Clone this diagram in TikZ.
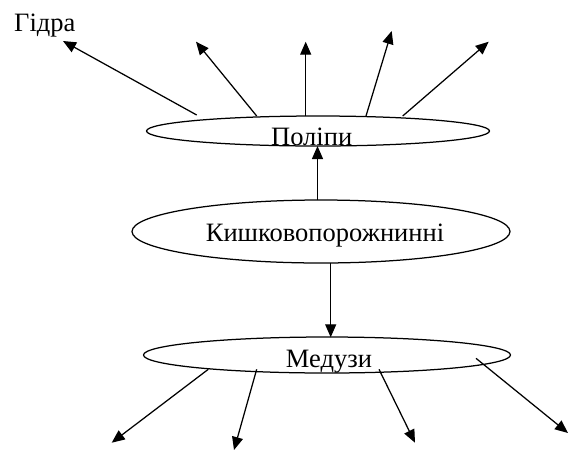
\documentclass[tikz,border=0pt]{standalone}
\usepackage{fontspec}
\setmainfont{Liberation Serif}
\usetikzlibrary{shapes.geometric,arrows.meta}
\begin{document}
\begin{tikzpicture}[x=1pt,y=-1pt,
  oval/.style={draw, ellipse, line width=1.25pt, inner sep=0pt},
  lbl/.style={font=\fontsize{26.5}{30}\selectfont, inner sep=0pt, anchor=base},
  arr/.style={-{Triangle[length=13pt,width=11pt]}, line width=1.25pt}]
\useasboundingbox (0,0) rectangle (571,451);
% ellipses
\node[oval, minimum width=343pt, minimum height=30pt] (pol) at (318,131) {};
\node[oval, minimum width=378pt, minimum height=63pt] (kish) at (321,231.5) {};
\node[oval, minimum width=367pt, minimum height=36pt] (med) at (327,355) {};
% texts
\node[lbl] (tpol) at (311.7,145) {Поліпи};
\node[lbl] (tkish) at (325,241.7) {Кишковопорожнинні};
\node[lbl] (tmed) at (329,367.3) {Медузи};
\node[lbl, anchor=base west] (hydra) at (14,31) {Гідра};
% coordinates
\coordinate (p1s) at (196.7,115);  \coordinate (p1e) at (63,41);
\coordinate (p2s) at (256.7,116);  \coordinate (p2e) at (196,41.7);
\coordinate (p3s) at (305.7,116);  \coordinate (p3e) at (305.7,41.7);
\coordinate (p4s) at (366,116);    \coordinate (p4e) at (391.7,31);
\coordinate (p5s) at (402.7,116);  \coordinate (p5e) at (488.7,41.7);
\coordinate (kps) at (317.5,200);  \coordinate (kpe) at (317.5,146);
\coordinate (kms) at (330.7,263);  \coordinate (kme) at (330.7,337.3);
\coordinate (m1s) at (208.3,369.3); \coordinate (m1e) at (111.7,442.7);
\coordinate (m2s) at (256.7,369.3); \coordinate (m2e) at (234,450);
\coordinate (m3s) at (379,369.3);   \coordinate (m3e) at (415,442.7);
\coordinate (m4s) at (476,358.3);   \coordinate (m4e) at (568,433);
% arrows
\draw[arr] (p1s) -- (p1e);
\draw[arr] (p2s) -- (p2e);
\draw[arr] (p3s) -- (p3e);
\draw[arr] (p4s) -- (p4e);
\draw[arr] (p5s) -- (p5e);
\draw[arr] (kps) -- (kpe);
\draw[arr] (kms) -- (kme);
\draw[arr] (m1s) -- (m1e);
\draw[arr] (m2s) -- (m2e);
\draw[arr] (m3s) -- (m3e);
\draw[arr] (m4s) -- (m4e);
\end{tikzpicture}
\end{document}
